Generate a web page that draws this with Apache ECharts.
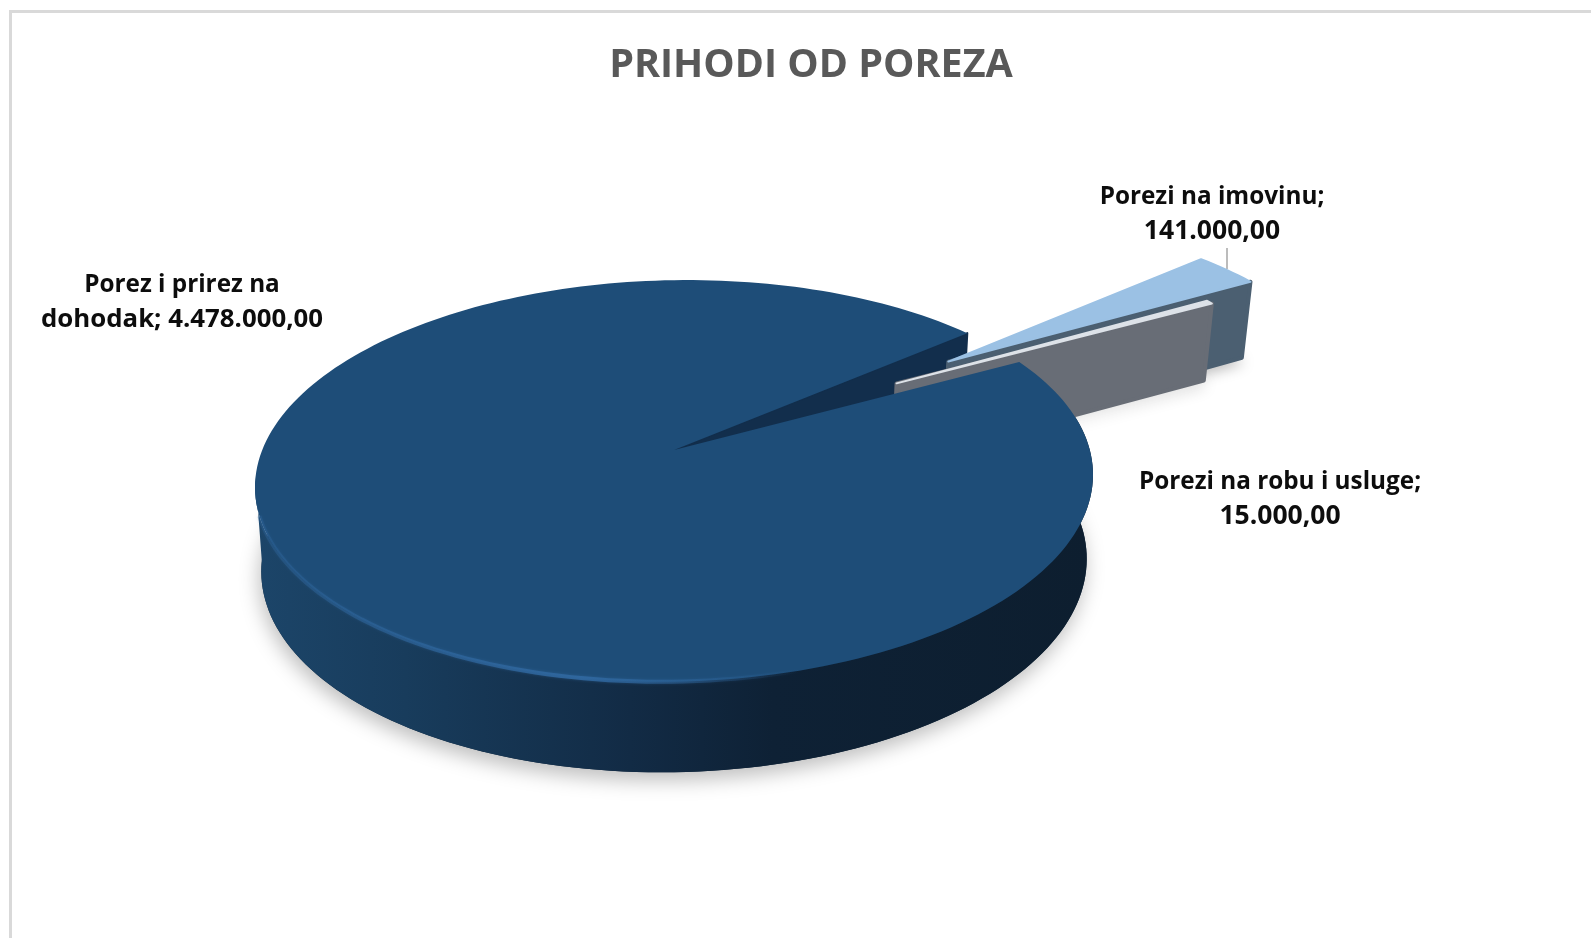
<!DOCTYPE html>
<html>
<head>
<meta charset="utf-8">
<title>PRIHODI OD POREZA</title>
<style>
  html, body { margin: 0; padding: 0; background: #fff; }
  #chart { width: 1591px; height: 938px; }
</style>
<script src="https://cdn.jsdelivr.net/npm/echarts@6/dist/echarts.min.js"></script>
</head>
<body>
<div id="chart"></div>
<script>
// podaci
const categories = ['Porezi na imovinu', 'Porezi na robu i usluge', 'Porez i prirez na dohodak'];
const values = [141000, 15000, 4478000];
const titleText = 'PRIHODI OD POREZA';

// izgled
const explode = [0.846, 0.66, 0];
const explodeDir = [33, 31, 0];
const sliceTop = ['#9bc1e4', '#dde2e8', '#1e4d78'];
const sliceCut = ['#4b5f71', '#686d76', '#122e4c'];
const labelBox = [
  { x: 1212, y: 197, lines: ['Porezi na imovinu;', null], size2: 26.5 },
  { x: 1280, y: 482, lines: ['Porezi na robu i usluge;', null], size2: 26.5 },
  { x: 182, y: 285, lines: ['Porez i prirez na', 'dohodak; '], size2: 25.8 }
];
const startDeg = 39;

// perspektiva
const cx = 674, cy = 450, R = 414, H = 196, k = 0.154, tilt = 0.015;

function proj(u, v, lower) {
  const w = 1 + k * v;
  let x = cx + R * u / w;
  let y = cy - H * v / w - tilt * (x - cx);
  if (lower) {
    x = cx + (x - cx) * 0.985;
    y += 83 - 7.5 * v;
  }
  return [x, y];
}

function fmt(n) {
  return n.toLocaleString('de-DE', { minimumFractionDigits: 2, maximumFractionDigits: 2 });
}

const total = values.reduce((a, b) => a + b, 0);

function sliceAngles(i) {
  let a = startDeg;
  for (let j = 0; j < i; j++) a -= values[j] / total * 360;
  return [a, a - values[i] / total * 360];
}

function arc(a0, a1, ox, oy, lower) {
  const pts = [];
  const n = Math.max(2, Math.ceil(Math.abs(a1 - a0) / 1.5));
  for (let j = 0; j <= n; j++) {
    const t = (a0 + (a1 - a0) * j / n) * Math.PI / 180;
    pts.push(proj(ox + Math.cos(t), oy + Math.sin(t), lower));
  }
  return pts;
}

const wallFill = new echarts.graphic.LinearGradient(255, 0, 1090, 0, [
  { offset: 0, color: '#1c4569' },
  { offset: 0.18, color: '#183c5c' },
  { offset: 0.45, color: '#122b45' },
  { offset: 0.62, color: '#0e2135' },
  { offset: 1, color: '#0d1e2f' }
], true);

const rimFill = new echarts.graphic.LinearGradient(255, 0, 800, 0, [
  { offset: 0, color: 'rgba(48,104,160,0.3)' },
  { offset: 0.6, color: 'rgba(48,104,160,0.9)' },
  { offset: 1, color: 'rgba(48,104,160,0)' }
], true);

function poly(points, fill, z2, extra) {
  return {
    type: 'polygon',
    z2: z2,
    silent: true,
    shape: { points: points },
    style: Object.assign({ fill: fill }, extra || {})
  };
}

function renderSlice(params, api) {
  const i = params.dataIndex;
  const ang = sliceAngles(i);
  const dir = explodeDir[i] * Math.PI / 180;
  const ox = explode[i] * Math.cos(dir);
  const oy = explode[i] * Math.sin(dir);
  const apex = proj(ox, oy, false);
  const apexLow = proj(ox, oy, true);
  const top = [apex].concat(arc(ang[0], ang[1], ox, oy, false));
  const low = [apexLow].concat(arc(ang[0], ang[1], ox, oy, true));
  const children = [];

  if (explode[i] > 0) {
    // odvojeni isjecak: sjena, rezana strana, gornja ploha
    const layer = 4 + i * 3;
    children.push(poly(low, sliceCut[i], 1, {
      shadowBlur: 14, shadowOffsetX: 3, shadowOffsetY: 5, shadowColor: 'rgba(0,0,0,0.28)'
    }));
    const endTop = top[top.length - 1], endLow = low[low.length - 1];
    children.push(poly([apex, endTop, endLow, apexLow], sliceCut[i], layer, {
      stroke: sliceCut[i], lineWidth: 4, lineJoin: 'round'
    }));
    children.push(poly(top, sliceTop[i], layer + 1, { stroke: sliceTop[i], lineWidth: 2, lineJoin: 'round' }));
  } else {
    // glavni isjecak: sjena, vanjski zid, rezana strana, gornja ploha
    // ang[0] je rub ispod razmaka, ang[1] rub iznad njega
    const wallEnd = -174;
    const frontTop = arc(ang[0], wallEnd, 0, 0, false);
    const frontLow = arc(ang[0], wallEnd, 0, 0, true).reverse();
    children.push(poly(arc(0, 360, 0, 0, true), '#10263c', 1, {
      shadowBlur: 20, shadowOffsetX: -2, shadowOffsetY: 8, shadowColor: 'rgba(0,0,0,0.26)'
    }));
    children.push(poly(frontTop.concat(frontLow), wallFill, 2));
    const edgeTop = arc(ang[1], ang[1], 0, 0, false)[0];
    const edgeLow = arc(ang[1], ang[1], 0, 0, true)[0];
    children.push(poly([apex, edgeTop, edgeLow, apexLow], sliceCut[i], 3, {
      stroke: sliceCut[i], lineWidth: 2, lineJoin: 'round'
    }));
    children.push(poly(top, sliceTop[i], 20));
    children.push({
      type: 'polyline', z2: 21, silent: true,
      shape: { points: arc(197, 292, 0, 0, false) },
      style: { fill: null, stroke: rimFill, lineWidth: 4, shadowBlur: 3, shadowColor: 'rgba(48,104,160,0.6)' }
    });
  }

  // natpis
  const val = fmt(api.value(0));
  const box = labelBox[i];
  const line2 = box.lines[1] === null ? val : box.lines[1] + val;
  [box.lines[0], line2].forEach(function (txt, n) {
    children.push({
      type: 'text', z2: 30, silent: true,
      style: {
        x: box.x, y: box.y + n * 34.5, text: txt,
        align: 'center', verticalAlign: 'middle',
        font: 'bold ' + (n ? box.size2 : 24.3) + 'px "Open Sans"', fill: '#0d0d0d'
      }
    });
  });
  return { type: 'group', children: children };
}

const chart = echarts.init(document.getElementById('chart'));
chart.setOption({
  animation: false,
  backgroundColor: '#ffffff',
  title: {
    text: titleText,
    left: 806,
    top: 41,
    textAlign: 'center',
    textStyle: { color: '#595959', fontFamily: 'Open Sans', fontWeight: 'bold', fontSize: 39.5 }
  },
  graphic: [
    { type: 'line', silent: true, shape: { x1: 10, y1: 11.5, x2: 1591, y2: 11.5 }, style: { stroke: '#d9d9d9', lineWidth: 3 } },
    { type: 'line', silent: true, shape: { x1: 10.5, y1: 10, x2: 10.5, y2: 938 }, style: { stroke: '#d9d9d9', lineWidth: 3 } },
    { type: 'line', silent: true, shape: { x1: 1227, y1: 248, x2: 1227, y2: 269 }, style: { stroke: '#a6a6a6', lineWidth: 1.5 } }
  ],
  series: [{
    type: 'custom',
    coordinateSystem: 'none',
    silent: true,
    data: categories.map(function (name, i) { return { name: name, value: [values[i]] }; }),
    renderItem: renderSlice
  }]
});
</script>
</body>
</html>
